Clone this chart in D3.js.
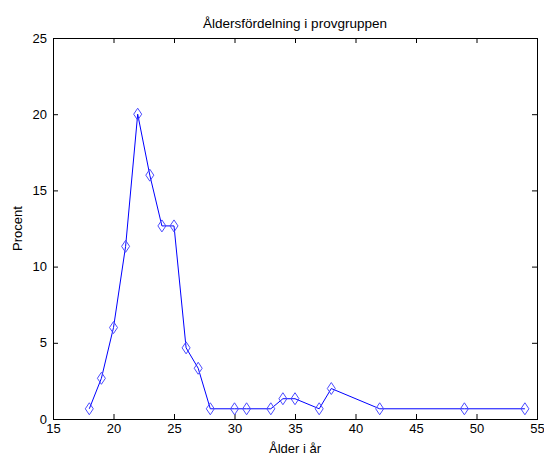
<!DOCTYPE html>
<html>
<head>
<meta charset="utf-8">
<script src="https://cdn.jsdelivr.net/npm/d3@7"></script>
<style>
  html, body { margin: 0; padding: 0; background: #fff; }
  svg { display: block; }
  text { font-family: "Liberation Sans", Arial, sans-serif; font-size: 13px; fill: #000; }
</style>
</head>
<body>
<script>
// Age distribution of the sample group (percent of participants per age)
const ages = [18, 19, 20, 21, 22, 23, 24, 25, 26, 27, 28, 30, 31, 33, 34, 35, 37, 38, 42, 49, 54];
const percent = [0.67, 2.67, 6, 11.33, 20, 16, 12.67, 12.67, 4.67, 3.33, 0.67, 0.67, 0.67, 0.67, 1.33, 1.33, 0.67, 2, 0.67, 0.67, 0.67];
const xTicks = [15, 20, 25, 30, 35, 40, 45, 50, 55];
const yTicks = [0, 5, 10, 15, 20, 25];

const W = 544, H = 456;
const m = { left: 53, right: 7, top: 38, bottom: 37 };
const svg = d3.select("body").append("svg").attr("width", W).attr("height", H);

const x = d3.scaleLinear().domain([15, 55]).range([m.left, W - m.right]);
const y = d3.scaleLinear().domain([0, 25]).range([H - m.bottom, m.top]);

const tick = 5;
const font = "'Liberation Sans', Arial, sans-serif";
// Bottom and left axes with labels, ticks pointing inward
svg.append("g").attr("transform", `translate(0,${y(0)})`)
  .call(d3.axisBottom(x).tickValues(xTicks).tickSizeInner(-tick).tickSizeOuter(0).tickPadding(5))
  .call(g => g.select(".domain").remove());
svg.append("g").attr("transform", `translate(${x(15)},0)`)
  .call(d3.axisLeft(y).tickValues(yTicks).tickSizeInner(-tick).tickSizeOuter(0).tickPadding(6))
  .call(g => g.select(".domain").remove());
// Top and right ticks without labels
svg.append("g").attr("transform", `translate(0,${y(25)})`)
  .call(d3.axisTop(x).tickValues(xTicks).tickSizeInner(-tick).tickSizeOuter(0).tickFormat(""))
  .call(g => g.select(".domain").remove());
svg.append("g").attr("transform", `translate(${x(55)},0)`)
  .call(d3.axisRight(y).tickValues(yTicks).tickSizeInner(-tick).tickSizeOuter(0).tickFormat(""))
  .call(g => g.select(".domain").remove());
svg.selectAll(".tick text").style("font-family", font).style("font-size", "13px").attr("fill", "#000");
svg.selectAll(".tick line").attr("stroke", "#000");

// Plot box
svg.append("rect")
  .attr("x", x(15) + 0.5).attr("y", y(25) + 0.5)
  .attr("width", x(55) - x(15)).attr("height", y(0) - y(25))
  .attr("fill", "none").attr("stroke", "#000").attr("stroke-width", 1);

// Series line
const pts = ages.map((a, i) => [a, percent[i]]);
svg.append("path")
  .datum(pts)
  .attr("fill", "none").attr("stroke", "#0000ff").attr("stroke-width", 1)
  .attr("d", d3.line().x(d => x(d[0])).y(d => y(d[1])));

// Diamond markers
const hw = 4, hh = 6;
svg.append("g").selectAll("path").data(pts).join("path")
  .attr("transform", d => `translate(${x(d[0])},${y(d[1])})`)
  .attr("d", `M0,${-hh}L${hw},0L0,${hh}L${-hw},0Z`)
  .attr("fill", "none").attr("stroke", "#4a4aff").attr("stroke-width", 1);

// Titles
svg.append("text").attr("x", (x(15) + x(55)) / 2).attr("y", 28)
  .attr("text-anchor", "middle").style("font-size", "13.5px").text("Åldersfördelning i provgruppen");
svg.append("text").attr("x", (x(15) + x(55)) / 2).attr("y", 453)
  .attr("text-anchor", "middle").text("Ålder i år");
svg.append("text")
  .attr("transform", `translate(22,${(y(0) + y(25)) / 2}) rotate(-90)`)
  .attr("text-anchor", "middle").text("Procent");
</script>
</body>
</html>
